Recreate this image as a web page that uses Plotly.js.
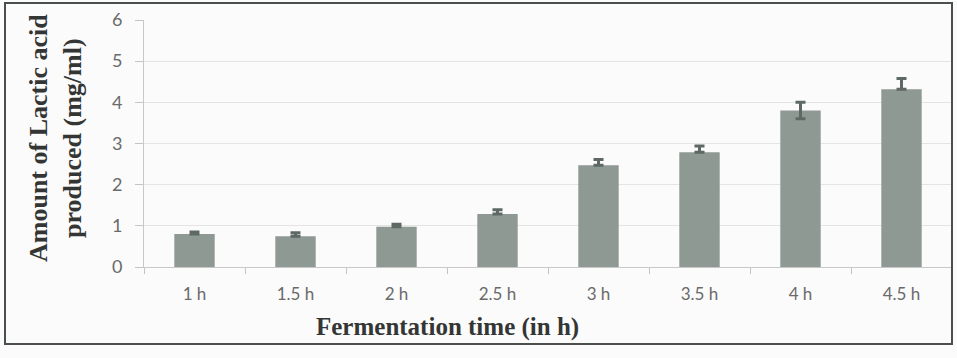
<!DOCTYPE html>
<html>
<head>
<meta charset="utf-8">
<script src="https://cdn.plot.ly/plotly-3.0.1.min.js"></script>
<style>
html,body{margin:0;padding:0;background:#fbfbfb;}
#chart{width:957px;height:358px;}
</style>
</head>
<body>
<div id="chart"></div>
<script>
// Data
var categories = ["1 h", "1.5 h", "2 h", "2.5 h", "3 h", "3.5 h", "4 h", "4.5 h"];
var lacticAcid = [0.80, 0.75, 0.98, 1.29, 2.47, 2.79, 3.80, 4.32];
var errorsPlus = [0.05, 0.08, 0.06, 0.10, 0.14, 0.15, 0.20, 0.26];
var errorsMinus = [0, 0, 0, 0, 0, 0, 0.20, 0];
var yTicks = [0, 1, 2, 3, 4, 5, 6];
var xTitle = "Fermentation time (in h)";
var yTitle = "Amount of Lactic acid<br>produced (mg/ml)";

var W = 957, H = 358;
var mL = 144, mR = 5, mT = 20, mB = 91;
var pw = W - mL - mR, ph = H - mT - mB;
function px(x) { return (x - mL) / pw; }
function py(y) { return (H - mB - y) / ph; }

var trace = {
  type: "bar",
  x: categories,
  y: lacticAcid,
  marker: { color: "#8f9994" },
  width: 0.4,
  error_y: {
    type: "data",
    symmetric: false,
    array: errorsPlus,
    arrayminus: errorsMinus,
    visible: true,
    color: "#5e6864",
    thickness: 3,
    width: 5
  },
  hoverinfo: "x+y"
};

var layout = {
  width: W, height: H,
  margin: { l: mL, r: mR, t: mT, b: mB },
  paper_bgcolor: "#fbfbfb",
  plot_bgcolor: "#fbfbfb",
  showlegend: false,
  xaxis: {
    type: "category",
    tickson: "boundaries",
    ticks: "outside",
    ticklen: 6,
    tickcolor: "#c4c4c4",
    showline: true,
    linecolor: "#c8c8c8",
    linewidth: 1,
    showgrid: false,
    zeroline: false,
    ticklabelstandoff: 12,
    tickfont: { family: "Lato, 'Liberation Sans', sans-serif", size: 17, color: "#6a6a6a" }
  },
  yaxis: {
    range: [0, 6],
    tickvals: yTicks,
    ticktext: yTicks.map(String),
    ticks: "outside",
    ticklen: 8,
    tickcolor: "#c4c4c4",
    showline: true,
    linecolor: "#c8c8c8",
    linewidth: 1,
    showgrid: true,
    gridcolor: "#e4e4e4",
    zeroline: false,
    ticklabelstandoff: 9,
    tickfont: { family: "Lato, 'Liberation Sans', sans-serif", size: 18, color: "#6a6a6a" }
  },
  annotations: [
    {
      text: "<b>" + xTitle + "</b>",
      xref: "paper", yref: "paper",
      x: px(447), y: py(327),
      xanchor: "center", yanchor: "middle",
      showarrow: false,
      font: { family: "'Liberation Serif', 'Times New Roman', serif", size: 25, color: "#333634" }
    },
    {
      text: "<b>" + yTitle + "</b>",
      xref: "paper", yref: "paper",
      x: px(55), y: py(138),
      xanchor: "center", yanchor: "middle",
      textangle: -90,
      showarrow: false,
      font: { family: "'Liberation Serif', 'Times New Roman', serif", size: 26, color: "#333634" }
    }
  ],
  shapes: [
    {
      type: "rect",
      xref: "paper", yref: "paper",
      x0: px(5), x1: px(952), y0: py(344), y1: py(3),
      line: { color: "#4a4f4c", width: 2 },
      fillcolor: "rgba(0,0,0,0)",
      layer: "above"
    }
  ]
};

Plotly.newPlot("chart", [trace], layout, { displayModeBar: false, staticPlot: true });
</script>
</body>
</html>
